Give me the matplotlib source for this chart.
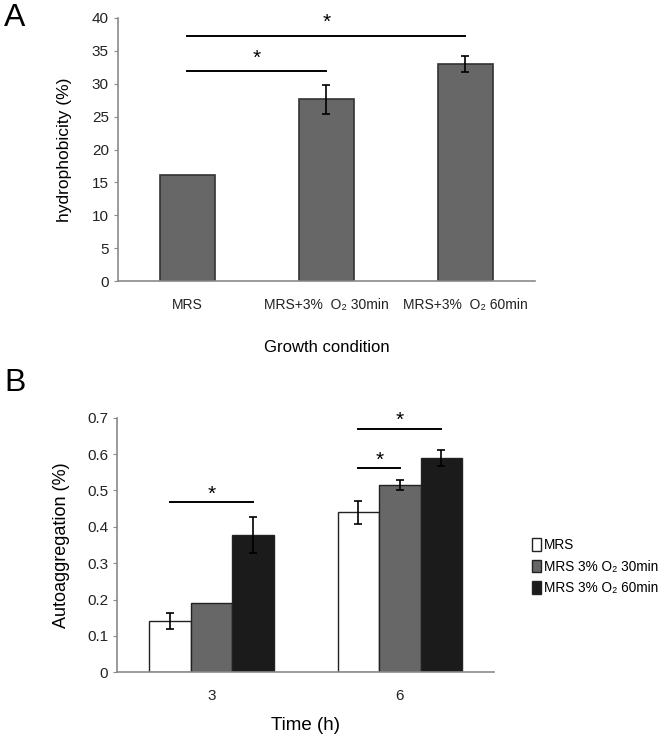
import matplotlib
matplotlib.use('Agg')
import matplotlib.pyplot as plt
import numpy as np

plt.rcParams['font.family'] = ['Liberation Sans', 'DejaVu Sans']

# panel A data
cond_labels = ['MRS', 'MRS+3%  O\u2082 30min', 'MRS+3%  O\u2082 60min']
hydro = [16.1, 27.6, 33.0]
hydro_err = [np.nan, 2.2, 1.2]

# panel B data
times = ['3', '6']
series_names = ['MRS', 'MRS 3% O\u2082 30min', 'MRS 3% O\u2082 60min']
auto_mrs = [0.14, 0.44]
auto_30 = [0.19, 0.515]
auto_60 = [0.377, 0.588]
err_mrs = [0.022, 0.031]
err_30 = [np.nan, 0.013]
err_60 = [0.05, 0.022]

colors = ['white', '#676767', '#1b1b1b']
spine_col = '#8a8a8a'

fig = plt.figure(figsize=(6.66, 7.42), dpi=100)

def style(ax):
    for s in ['top', 'right']:
        ax.spines[s].set_visible(False)
    for s in ['left', 'bottom']:
        ax.spines[s].set_color(spine_col)
        ax.spines[s].set_linewidth(1.2)
    ax.tick_params(axis='y', colors=spine_col, labelcolor='#222222', labelsize=11, length=3)
    ax.tick_params(axis='x', length=0, labelcolor='#222222', labelsize=10, pad=12)

def sig(ax, x1, x2, y, ys):
    ax.plot([x1, x2], [y, y], color='black', lw=1.4)
    ax.text((x1 + x2) / 2, ys, '*', ha='center', va='center', fontsize=15)

# ---- A
axA = fig.add_axes([0.177, 0.621, 0.626, 0.355])
x = np.arange(len(hydro))
axA.bar(x, hydro, 0.4, color=colors[1], edgecolor='#333333', linewidth=1.2,
        yerr=hydro_err, capsize=3, error_kw=dict(elinewidth=1.2, capthick=1.2, ecolor='black'))
axA.set_xlim(-0.5, 2.5)
axA.set_ylim(0, 40)
axA.set_yticks(np.arange(0, 41, 5))
axA.set_xticks(x)
axA.set_xticklabels(cond_labels)
style(axA)
axA.set_ylabel('hydrophobicity (%)', fontsize=12.5, labelpad=14)
axA.set_xlabel('Growth condition', fontsize=12, labelpad=20)
sig(axA, 0, 2, 37.2, 39.3)
sig(axA, 0, 1, 31.9, 33.9)
fig.text(0.006, 0.976, 'A', fontsize=23, va='center')

# ---- B
axB = fig.add_axes([0.176, 0.094, 0.566, 0.343])
xb = np.arange(len(times))
w = 0.22
vals = [auto_mrs, auto_30, auto_60]
errs = [err_mrs, err_30, err_60]
for i in range(3):
    axB.bar(xb + (i - 1) * w, vals[i], w, color=colors[i], edgecolor='#222222', linewidth=1.0,
            yerr=errs[i], capsize=3, label=series_names[i],
            error_kw=dict(elinewidth=1.2, capthick=1.2, ecolor='black'))
axB.set_xlim(-0.5, 1.5)
axB.set_ylim(0, 0.7)
axB.set_yticks(np.arange(0, 0.71, 0.1))
axB.set_yticklabels(['0', '0.1', '0.2', '0.3', '0.4', '0.5', '0.6', '0.7'])
axB.set_xticks(xb)
axB.set_xticklabels(times)
style(axB)
axB.tick_params(axis='x', labelsize=11)
axB.set_ylabel('Autoaggregation (%)', fontsize=13, labelpad=12)
axB.set_xlabel('Time (h)', fontsize=13.5, labelpad=10)
sig(axB, -w, w, 0.468, 0.49)
sig(axB, 1 - w, 1, 0.561, 0.584)
sig(axB, 1 - w, 1 + w, 0.67, 0.694)
axB.legend(loc='center left', bbox_to_anchor=(1.085, 0.415), frameon=False, fontsize=9.8,
           handlelength=0.7, handleheight=1.0, handletextpad=0.2, labelspacing=0.55,
           borderaxespad=0.0)
fig.text(0.006, 0.484, 'B', fontsize=23, va='center')

fig.savefig('out.png', dpi=100)
